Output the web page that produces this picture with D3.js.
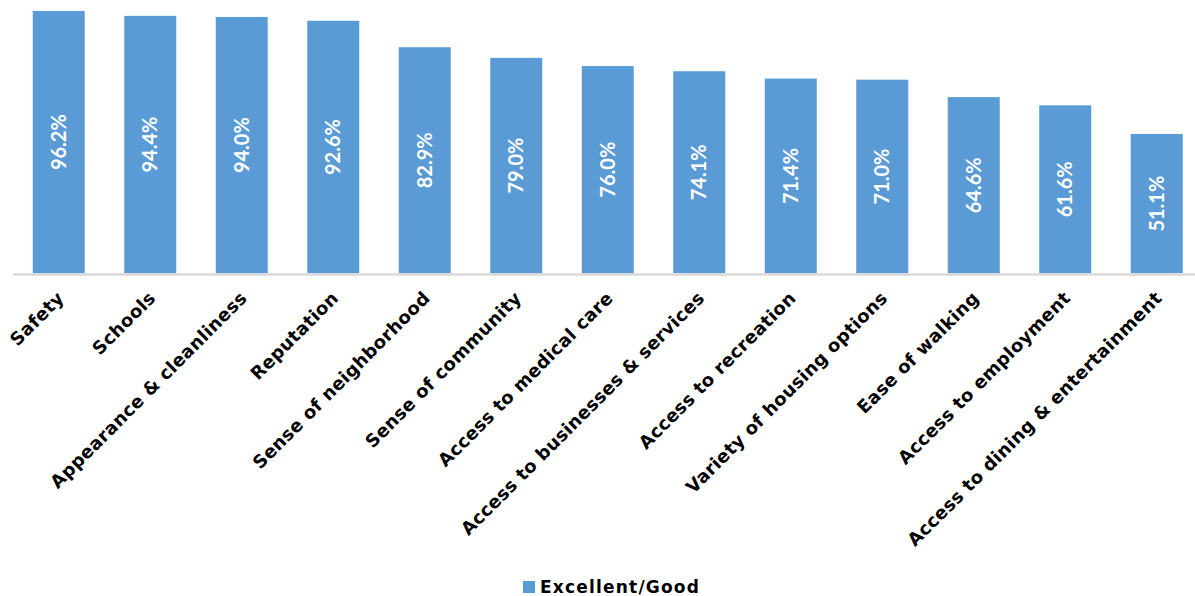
<!DOCTYPE html>
<html>
<head>
<meta charset="utf-8">
<script src="https://cdn.jsdelivr.net/npm/d3@7"></script>
<style>
  html, body { margin: 0; padding: 0; background: #fff; }
  svg { display: block; }
</style>
</head>
<body>
<svg id="chart" width="1195" height="596"></svg>
<script>
// Neighborhood ratings: share answering Excellent/Good
const categories = [
  "Safety", "Schools", "Appearance & cleanliness", "Reputation",
  "Sense of neighborhood", "Sense of community", "Access to medical care",
  "Access to businesses & services", "Access to recreation",
  "Variety of housing options", "Ease of walking", "Access to employment",
  "Access to dining & entertainment"
];
const excellentGood = [96.2, 94.4, 94.0, 92.6, 82.9, 79.0, 76.0, 74.1, 71.4, 71.0, 64.6, 61.6, 51.1];
const seriesName = "Excellent/Good";

const barColor = "#5B9BD5";
const svg = d3.select("#chart");

const gapRatio = 1 - 52 / 91.5;
const x = d3.scaleBand()
  .domain(categories)
  .range([13, 1202.5])
  .paddingInner(gapRatio)
  .paddingOuter(gapRatio / 2);

const y = d3.scaleLinear().domain([0, 100]).range([273.3, 0.6]);

const data = categories.map((c, i) => ({ cat: c, val: excellentGood[i] }));

// bars
svg.append("g").selectAll("rect").data(data).join("rect")
  .attr("x", d => x(d.cat))
  .attr("y", d => y(d.val))
  .attr("width", x.bandwidth())
  .attr("height", d => y(0) - y(d.val))
  .attr("fill", barColor);

// category axis line
svg.append("line")
  .attr("x1", 13).attr("x2", 1202.5)
  .attr("y1", 274.5).attr("y2", 274.5)
  .attr("stroke", "#D9D9D9").attr("stroke-width", 2.3);

// value labels inside bars, rotated
svg.append("g").selectAll("text").data(data).join("text")
  .attr("transform", d => `translate(${x(d.cat) + x.bandwidth() / 2},${(y(d.val) + y(0)) / 2}) rotate(-90)`)
  .attr("text-anchor", "middle")
  .attr("dy", "0.36em")
  .attr("fill", "#fff")
  .style("font-family", "Lato, sans-serif")
  .style("font-weight", "bold")
  .style("font-size", "20px")
  .text(d => d.val.toFixed(1) + "%");

// category labels, rotated -45
svg.append("g").selectAll("text").data(data).join("text")
  .attr("transform", d => `translate(${x(d.cat) + x.bandwidth() / 2 - 3},290) rotate(-45)`)
  .attr("text-anchor", "end")
  .attr("dy", "0.73em")
  .attr("fill", "#000")
  .style("font-family", "'DejaVu Sans', sans-serif")
  .style("font-weight", "bold")
  .style("font-size", "18px")
  .style("letter-spacing", "0.3px")
  .text(d => d.cat);

// legend
const legend = svg.append("g").attr("transform", "translate(523,581)");
legend.append("rect").attr("width", 12).attr("height", 12).attr("fill", barColor);
legend.append("text")
  .attr("x", 17).attr("y", 11.5)
  .attr("fill", "#000")
  .style("font-family", "'DejaVu Sans', sans-serif")
  .style("font-weight", "bold")
  .style("font-size", "17px")
  .style("letter-spacing", "1.2px")
  .text(seriesName);
</script>
</body>
</html>
